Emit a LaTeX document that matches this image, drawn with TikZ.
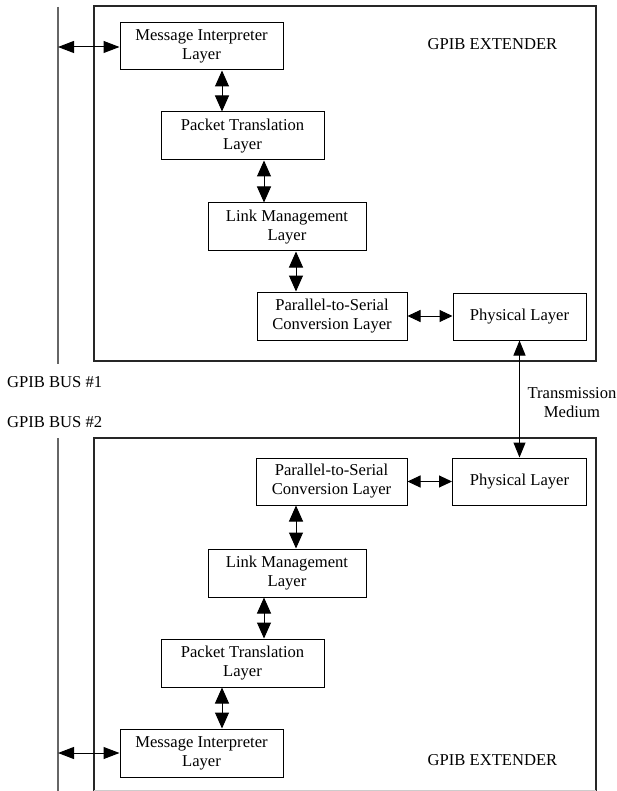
\documentclass[tikz,border=0pt]{standalone}
\usepackage{fontspec}
\setmainfont{Liberation Serif}
\usetikzlibrary{arrows.meta}
\begin{document}
\begin{tikzpicture}[x=1pt,y=-1pt,
  font=\fontsize{16.6}{19}\selectfont,
  layerbox/.style={draw=black, line width=1pt, align=center, inner sep=0pt},
  frame/.style={draw=black!85, line width=1.1pt},
  busline/.style={draw=black!60, line width=1.6pt},
  biarrow/.style={line width=1pt, {Triangle[length=16pt,width=14pt]}-{Triangle[length=16pt,width=14pt]}},
  hbiarrow/.style={line width=1pt, {Triangle[length=13pt,width=12pt]}-{Triangle[length=13pt,width=12pt]}},
  busarrow/.style={line width=1pt, {Triangle[length=16pt,width=12pt]}-{Triangle[length=16pt,width=12pt]}},
  lbl/.style={inner sep=0pt}
]
\path[use as bounding box, fill=white] (0,0) rectangle (617,791);

% ---------- Extender 1 ----------
\draw[frame] (94,6) rectangle (596,361);
\draw[busline] (58,7) -- (58,364);
\node[lbl] (ext1) at (492.5,44) {GPIB EXTENDER};

\node[layerbox, minimum width=163pt, minimum height=47pt] (mi1) at (201.5,46.5) {Message Interpreter\\Layer};
\node[layerbox, minimum width=163pt, minimum height=48pt] (pt1) at (242.5,136) {Packet Translation\\Layer};
\node[layerbox, minimum width=158pt, minimum height=48pt] (lm1) at (287,227) {Link Management\\Layer};
\node[layerbox, minimum width=150pt, minimum height=48pt] (ps1) at (332,316) {Parallel-to-Serial\\Conversion Layer};
\node[layerbox, minimum width=133pt, minimum height=47pt] (pl1) at (519.5,316.5) {Physical Layer};

\coordinate (bus1) at (58,47);
\draw[busarrow] (bus1) -- (mi1.west |- bus1);
\draw[biarrow] ([xshift=20.5pt]mi1.south) -- ([xshift=-20.5pt]pt1.north);
\draw[biarrow] ([xshift=21.5pt]pt1.south) -- ([xshift=-23pt]lm1.north);
\draw[biarrow] ([xshift=9pt]lm1.south) -- ([xshift=-36pt]ps1.north);
\draw[hbiarrow] (ps1.east) -- (pl1.west |- ps1.east);

% ---------- labels between ----------
\node[lbl, anchor=west] (bus1lbl) at (7,382) {GPIB BUS \#1};
\node[lbl, anchor=west] (bus2lbl) at (7,422) {GPIB BUS \#2};
\node[lbl, align=center] (tm) at (572,402.5) {Transmission\\Medium};

% ---------- Extender 2 ----------
\draw[frame] (94,791) -- (94,438) -- (596,438) -- (596,791);
\draw[draw=black!20, line width=1pt] (94,790) -- (596,790);
\draw[busline] (58,438) -- (58,791);
\node[lbl] (ext2) at (492.5,760) {GPIB EXTENDER};

\node[layerbox, minimum width=151pt, minimum height=47pt] (ps2) at (331.5,481.5) {Parallel-to-Serial\\Conversion Layer};
\node[layerbox, minimum width=134pt, minimum height=47pt] (pl2) at (519.5,481.5) {Physical Layer};
\node[layerbox, minimum width=158pt, minimum height=48pt] (lm2) at (287,573) {Link Management\\Layer};
\node[layerbox, minimum width=163pt, minimum height=48pt] (pt2) at (242.5,663) {Packet Translation\\Layer};
\node[layerbox, minimum width=163pt, minimum height=48pt] (mi2) at (201.5,753) {Message Interpreter\\Layer};

\draw[hbiarrow] (ps2.east) -- (pl2.west |- ps2.east);
\draw[biarrow] ([xshift=-35.5pt]ps2.south) -- ([xshift=9pt]lm2.north);
\draw[biarrow] ([xshift=-23pt]lm2.south) -- ([xshift=21.5pt]pt2.north);
\draw[biarrow] ([xshift=-20.5pt]pt2.south) -- ([xshift=20.5pt]mi2.north);
\coordinate (bus2) at (58,753);
\draw[busarrow] (bus2) -- (mi2.west |- bus2);

% ---------- transmission medium ----------
\draw[line width=1pt, {Triangle[length=15pt,width=12pt]}-{Triangle[length=15pt,width=12pt]}] (pl1.south) -- (pl2.north);
\end{tikzpicture}
\end{document}
